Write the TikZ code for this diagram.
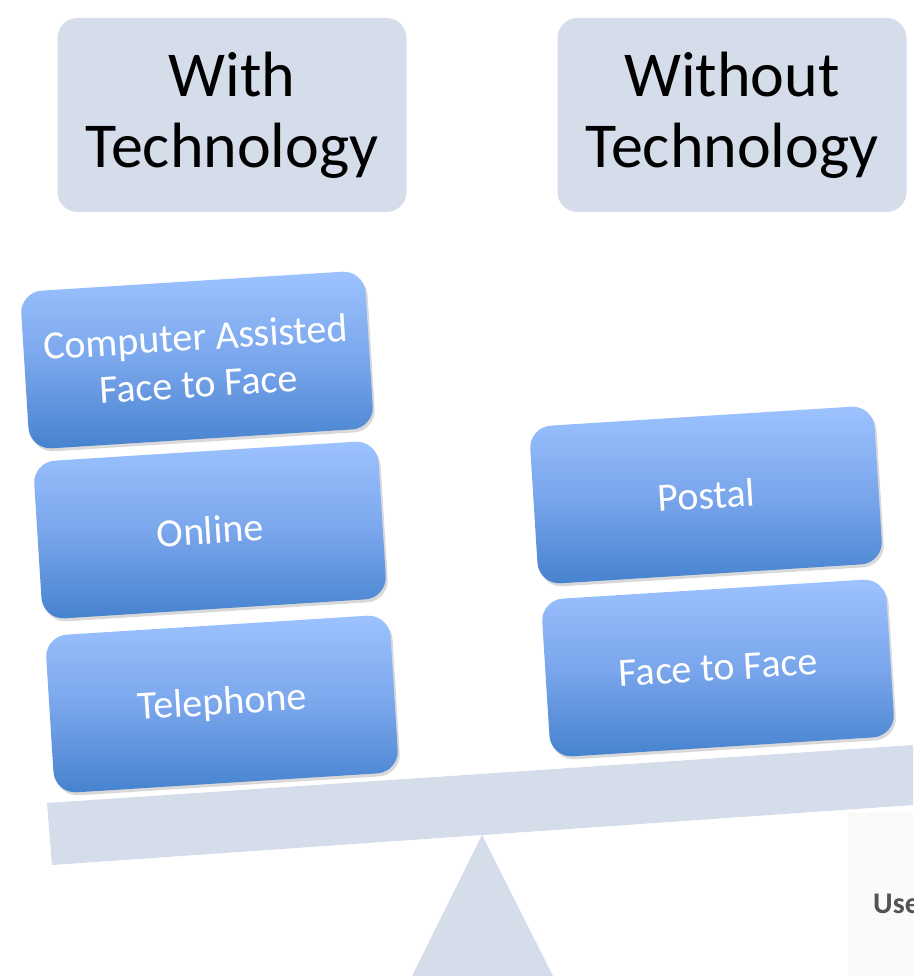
\documentclass[tikz,border=0pt]{standalone}
\usepackage{fontspec}
\setmainfont{Carlito}
\usetikzlibrary{shadows}
\definecolor{panel}{RGB}{213,220,234}
\definecolor{boxtop}{RGB}{157,195,255}
\definecolor{boxmid}{RGB}{122,166,236}
\definecolor{boxbot}{RGB}{70,130,206}

\begin{document}
\begin{tikzpicture}[x=1pt, y=1pt,
	head/.style={fill=panel, rounded corners=20pt, minimum width=349pt, minimum height=194pt, align=center, font=\fontsize{64}{71}\selectfont},
	method/.style={rounded corners=22pt, minimum width=345pt, minimum height=158pt, rotate=3.6, top color=boxtop, bottom color=boxbot, middle color=boxmid, text=white, align=center, font=\fontsize{40}{47}\selectfont, drop shadow={shadow xshift=2pt, shadow yshift=-3pt, opacity=0.3}}]
	\useasboundingbox (0,0) rectangle (913,-976);
	\begin{scope}
		\clip (0,0) rectangle (913,-976);
		% faint panel in the corner
		\fill[gray!4] (848,-812) rectangle (913,-976);
		\node[anchor=base west, inner sep=0pt, text=gray!65!black, font=\fontsize{30}{36}\selectfont\bfseries] (use) at (873,-913) {Use};
		% the seesaw
		\fill[panel] (47,-803) -- (913,-745) -- (913,-805) -- (52,-865) -- cycle;
		\fill[panel] (482,-835) -- (553,-976) -- (412,-976) -- cycle;
	\end{scope}
	\node[head] (with) at (232,-115) {With\\Technology};
	\node[head] (without) at (732,-115) {Without\\Technology};
	% left pan
	\node[method] (cafe) at (197,-360) {Computer Assisted\\Face to Face};
	\node[method] (online) at (210,-530) {Online};
	\node[method] (phone) at (222,-704) {Telephone};
	% right pan
	\node[method] (postal) at (706,-495) {Postal};
	\node[method] (f2f) at (718,-668) {Face to Face};
\end{tikzpicture}
\end{document}
